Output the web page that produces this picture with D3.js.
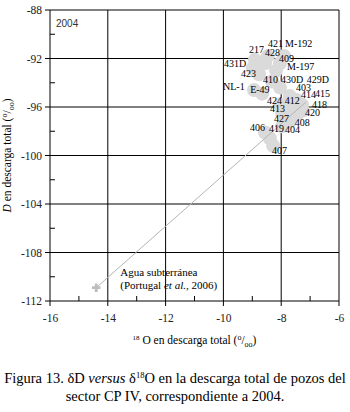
<!doctype html>
<html>
<head>
<meta charset="utf-8">
<style>
  body { margin: 0; background: #fff; }
  svg { font-family: "Liberation Serif", "DejaVu Serif", serif; }
  .grid line { stroke: #000; stroke-width: 1; }
  .tick text { font-family: "Liberation Serif", serif !important; font-size: 11.5px; fill: #222; }
  .well { fill: #dadada; }
  .wlabel { font-size: 10px; fill: #000; }
</style>
<script src="https://d3js.org/d3.v7.min.js"></script>
</head>
<body>
<svg id="svg" width="350" height="412"></svg>
<script>
// wells, 2004 (d18O, dD in per mil)
var wells = ["217", "421", "428", "M-192", "409", "431D", "M-197", "423", "410", "430D", "429D",
             "NL-1", "E-49", "403", "415", "414", "424", "412", "418", "413", "420", "427", "408",
             "406", "419", "404", "407"];
var d18O = [-8.91, -8.46, -8.56, -7.90, -8.04, -8.98, -8.18, -8.77, -8.32, -8.04, -7.70,
            -8.94, -8.66, -7.49, -7.28, -7.45, -8.04, -7.70, -7.25, -7.97, -7.45, -7.87, -7.70,
            -8.56, -8.39, -7.97, -8.28];
var dD = [-92.1, -91.8, -92.4, -91.8, -92.4, -92.8, -93.0, -93.3, -93.9, -94.4, -95.1,
          -94.6, -94.9, -95.4, -95.8, -95.9, -95.8, -96.0, -96.3, -96.5, -96.6, -96.9, -97.2,
          -98.1, -98.6, -97.6, -99.2];
// label offsets from the point, px
var labelDx = [-6, 0, 0, 1, -1, -29, 11, -18, -9, 1, 17, -31, -12, 0, 13, 4, -13, -5, 9, -12, 8, -11, 5, -15, -1, 3, -1];
var labelDy = [-7, -9, -7, -9, -1, -1, -1, 3, 1, -5, -13, 0, -1, -9, -8, -8, -1, -3, -3, -1, 2, 4, 4, -1, -7, 7, 8];

// groundwater reference (Portugal et al., 2006) and the line toward the wells
var groundwater = [-14.4, -110.9];
var lineEnd = [-7.15, -95.6];

var xTicks = [-16, -14, -12, -10, -8, -6];
var xMinor = [-15, -13, -11, -9, -7];
var yTicks = [-88, -92, -96, -100, -104, -108, -112];
var yMinor = [-90, -94, -98, -102, -106, -110];

var svg = d3.select("#svg");
var pLeft = 50, pRight = 339, pTop = 10, pBottom = 301;

var x = d3.scaleLinear().domain([-16, -6]).range([pLeft, pRight]);
var y = d3.scaleLinear().domain([-88, -112]).range([pTop, pBottom]);

// grid
var grid = svg.append("g").attr("class", "grid");
grid.selectAll(".vx").data(xTicks).enter().append("line")
    .attr("x1", function(d) { return x(d); }).attr("x2", function(d) { return x(d); })
    .attr("y1", pTop).attr("y2", pBottom + 5);
grid.selectAll(".hy").data(yTicks).enter().append("line")
    .attr("y1", function(d) { return y(d); }).attr("y2", function(d) { return y(d); })
    .attr("x1", pLeft - 5).attr("x2", pRight);

// axes (labels + minor ticks)
svg.append("g")
    .attr("transform", "translate(0," + pBottom + ")")
    .call(d3.axisBottom(x).tickValues(xTicks).tickSize(0).tickPadding(13).tickFormat(function(d) { return d; }))
    .call(function(g) { g.select(".domain").remove(); })
    .attr("font-family", null);
svg.append("g")
    .attr("transform", "translate(" + pLeft + ",0)")
    .call(d3.axisLeft(y).tickValues(yTicks).tickSize(0).tickPadding(8).tickFormat(function(d) { return d; }))
    .call(function(g) { g.select(".domain").remove(); })
    .attr("font-family", null);

svg.append("g").selectAll("line").data(xMinor).enter().append("line")
    .attr("x1", function(d) { return x(d); }).attr("x2", function(d) { return x(d); })
    .attr("y1", pBottom).attr("y2", pBottom - 5).attr("stroke", "#000");
svg.append("g").selectAll("line").data(yMinor).enter().append("line")
    .attr("y1", function(d) { return y(d); }).attr("y2", function(d) { return y(d); })
    .attr("x1", pLeft).attr("x2", pLeft + 5).attr("stroke", "#000");

// wells
svg.append("g").selectAll("circle").data(wells).enter().append("circle")
    .attr("class", "well")
    .attr("cx", function(d, i) { return x(d18O[i]); })
    .attr("cy", function(d, i) { return y(dD[i]); })
    .attr("r", 7);

// line toward groundwater
svg.append("line")
    .attr("x1", x(groundwater[0])).attr("y1", y(groundwater[1]))
    .attr("x2", x(lineEnd[0])).attr("y2", y(lineEnd[1]))
    .attr("stroke", "#b4b4b4").attr("stroke-width", 1);

svg.append("path")
    .attr("d", d3.symbol().type(d3.symbolCross).size(40)())
    .attr("transform", "translate(" + x(groundwater[0]) + "," + y(groundwater[1]) + ")")
    .attr("fill", "#bdbdbd");

// well labels
svg.append("g").selectAll("text").data(wells).enter().append("text")
    .attr("class", "wlabel")
    .attr("x", function(d, i) { return x(d18O[i]) + labelDx[i]; })
    .attr("y", function(d, i) { return y(dD[i]) + labelDy[i]; })
    .text(function(d) { return d; });

svg.append("text").attr("x", 56).attr("y", 27)
    .style("font-family", "'Liberation Sans', sans-serif").style("font-size", "10px").style("fill", "#333")
    .text("2004");

var gw = svg.append("text").attr("x", x(groundwater[0]) + 24).attr("y", y(groundwater[1]) - 12)
    .style("font-size", "11px");
gw.append("tspan").text("Agua subterránea");
var gw2 = svg.append("text").attr("x", x(groundwater[0]) + 24).attr("y", y(groundwater[1]) + 1)
    .style("font-size", "11px");
gw2.append("tspan").text("(Portugal ");
gw2.append("tspan").style("font-style", "italic").text("et al.");
gw2.append("tspan").text(", 2006)");

// axis titles
var xt = svg.append("text").attr("x", (pLeft + pRight) / 2).attr("y", 344)
    .attr("text-anchor", "middle").style("font-size", "11.5px");
xt.append("tspan").attr("dy", -4).style("font-size", "7px").text("18");
xt.append("tspan").attr("dy", 4).text(" O en descarga total (");
xt.append("tspan").attr("dy", -4).style("font-size", "8px").text("o");
xt.append("tspan").attr("dy", 4).text("/");
xt.append("tspan").attr("dy", 3).style("font-size", "8px").text("oo");
xt.append("tspan").attr("dy", -3).text(")");

var yt = svg.append("text")
    .attr("transform", "translate(11," + ((pTop + pBottom) / 2) + ") rotate(-90)")
    .attr("text-anchor", "middle").style("font-size", "11.5px");
yt.append("tspan").style("font-style", "italic").text("D");
yt.append("tspan").text(" en descarga total (");
yt.append("tspan").attr("dy", -4).style("font-size", "8px").text("o");
yt.append("tspan").attr("dy", 4).text("/");
yt.append("tspan").attr("dy", 3).style("font-size", "8px").text("oo");
yt.append("tspan").attr("dy", -3).text(")");

// caption
var c1 = svg.append("text").attr("x", 175).attr("y", 383)
    .attr("text-anchor", "middle").style("font-size", "14.5px");
c1.append("tspan").text("Figura 13. δD ");
c1.append("tspan").style("font-style", "italic").text("versus");
c1.append("tspan").text(" δ");
c1.append("tspan").attr("dy", -5).style("font-size", "8.5px").text("18");
c1.append("tspan").attr("dy", 5).text("O en la descarga total de pozos del");
svg.append("text").attr("x", 175).attr("y", 401)
    .attr("text-anchor", "middle").style("font-size", "14.5px")
    .text("sector CP IV, correspondiente a 2004.");
</script>
</body>
</html>
